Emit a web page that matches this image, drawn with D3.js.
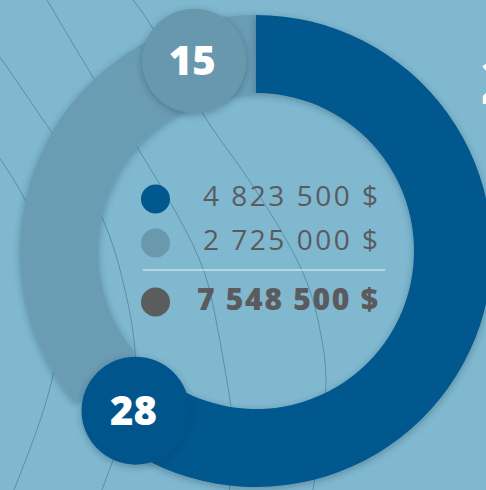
<!DOCTYPE html>
<html>
<head>
<meta charset="utf-8">
<script src="https://cdn.jsdelivr.net/npm/d3@7"></script>
<style>
  html, body { margin: 0; padding: 0; background: #7fb8cf; overflow: hidden; }
  svg { display: block; }
</style>
</head>
<body>
<div class="donut-section"></div>
<script>
// values
const categories = ["Segment A", "Segment B"];
const amounts = [4823500, 2725000];
const counts = [28, 15];

const colors = ["#00588e", "#6a9cb3"];
const capColors = ["#00578c", "#6798ad"];
const legendDots = ["#00588e", "#6a99ae"];
const totalDot = "#5b5c5e";
const textGrey = "#5b5b5d";

// how far back from the end of each segment its number bubble sits (degrees)
const capOffsets = [13, 18];

// decorative background strokes (not data)
const decor = [
  [[0, 57], [50, 130], [100, 213], [125, 290], [134, 340], [134, 385], [120, 440], [100, 495]],
  [[-10, 145], [25, 200], [50, 270], [58, 330], [52, 380], [35, 435], [12, 495]],
  [[47, 0], [93, 77], [137, 147], [193, 245], [216, 320], [230, 400], [233, 445], [229, 495]],
  [[133, 0], [160, 40], [205, 117], [240, 167], [297, 260], [320, 330], [326, 380], [321, 440], [312, 495]]
];

var width = 486, height = 490;
var cx = 256, cy = 251;
var rOuter = 236, rInner = 158, rCap = 200;

var fmtLocale = d3.formatLocale({
  decimal: ",", thousands: "\u00a0", grouping: [3], currency: ["", "\u00a0$"]
});
var money = fmtLocale.format("$,.0f");
var total = d3.sum(amounts);

var svg = d3.select(".donut-section")
    .append("svg")
    .attr("width", width)
    .attr("height", height);

var defs = svg.append("defs");
var shadow = defs.append("filter")
    .attr("id", "shadow")
    .attr("x", "-20%").attr("y", "-20%")
    .attr("width", "140%").attr("height", "140%");
shadow.append("feDropShadow")
    .attr("dx", 0).attr("dy", 2)
    .attr("stdDeviation", 3.5)
    .attr("flood-color", "#16384a")
    .attr("flood-opacity", 0.35);

svg.append("rect")
    .attr("width", width).attr("height", height)
    .attr("fill", "#7fb8cf");

// background strokes
var curve = d3.line().curve(d3.curveNatural);
svg.append("g")
    .selectAll("path")
    .data(decor)
    .enter()
    .append("path")
    .attr("d", curve)
    .attr("fill", "none")
    .attr("stroke", "#2f5f78")
    .attr("stroke-opacity", 0.45)
    .attr("stroke-width", 1);

var pie = d3.pie().sort(null).value(function(d) { return d; });
var slices = pie(amounts);

var arc = d3.arc().innerRadius(rInner).outerRadius(rOuter);

var g = svg.append("g")
    .attr("transform", "translate(" + cx + "," + cy + ")");

function capAngle(i) {
  return slices[i].endAngle - capOffsets[i] * Math.PI / 180;
}

// light segment first, dark one on top of it (its bubble caps the end)
g.append("path")
    .attr("d", arc(slices[1]))
    .attr("fill", colors[1])
    .attr("filter", "url(#shadow)");

g.append("path")
    .attr("d", arc({ startAngle: slices[0].startAngle, endAngle: capAngle(0) }))
    .attr("fill", colors[0])
    .attr("filter", "url(#shadow)");

// number bubbles
var caps = g.selectAll(".cap")
    .data([1, 0])
    .enter()
    .append("g")
    .attr("class", "cap")
    .attr("transform", function(i) {
      var a = capAngle(i);
      return "translate(" + (rCap * Math.sin(a)) + "," + (-rCap * Math.cos(a)) + ")";
    });

caps.append("circle")
    .attr("r", function(i) { return i === 0 ? 54 : 52; })
    .attr("fill", function(i) { return capColors[i]; })
    .attr("filter", "url(#shadow)");

caps.append("text")
    .attr("text-anchor", "middle")
    .attr("dy", "0.36em")
    .attr("x", -2)
    .attr("font-family", "'Open Sans', Lato, sans-serif")
    .attr("font-weight", 800)
    .attr("font-size", 40)
    .attr("fill", "white")
    .text(function(i) { return counts[i]; });

// legend in the hole
var legend = svg.append("g");
var rowY = [199, 243];

legend.selectAll("circle.dot")
    .data(amounts)
    .enter()
    .append("circle")
    .attr("class", "dot")
    .attr("cx", 155.5)
    .attr("cy", function(d, i) { return rowY[i]; })
    .attr("r", 14.5)
    .attr("fill", function(d, i) { return legendDots[i]; });

legend.selectAll("text.val")
    .data(amounts)
    .enter()
    .append("text")
    .attr("class", "val")
    .attr("x", 203)
    .attr("y", function(d, i) { return rowY[i] + 7; })
    .attr("textLength", 175)
    .attr("lengthAdjust", "spacing")
    .attr("font-family", "'Open Sans', Lato, sans-serif")
    .attr("font-size", 28)
    .attr("fill", textGrey)
    .text(function(d) { return money(d); });

legend.append("line")
    .attr("x1", 143).attr("x2", 385)
    .attr("y1", 270).attr("y2", 270)
    .attr("stroke", "#d4e9f1")
    .attr("stroke-opacity", 0.85)
    .attr("stroke-width", 1.5);

legend.append("circle")
    .attr("cx", 155.5).attr("cy", 302)
    .attr("r", 14.5)
    .attr("fill", totalDot);

legend.append("text")
    .attr("x", 197)
    .attr("y", 310)
    .attr("textLength", 181)
    .attr("lengthAdjust", "spacing")
    .attr("font-family", "'Open Sans', Lato, sans-serif")
    .attr("font-weight", 800)
    .attr("font-size", 30)
    .attr("fill", textGrey)
    .text(money(total));

// cropped white figure at the right edge, as in the source image
svg.append("text")
    .attr("x", 481)
    .attr("y", 104)
    .attr("font-family", "'Open Sans', sans-serif")
    .attr("font-weight", 800)
    .attr("font-size", 62)
    .attr("fill", "white")
    .text("2");
</script>
</body>
</html>
